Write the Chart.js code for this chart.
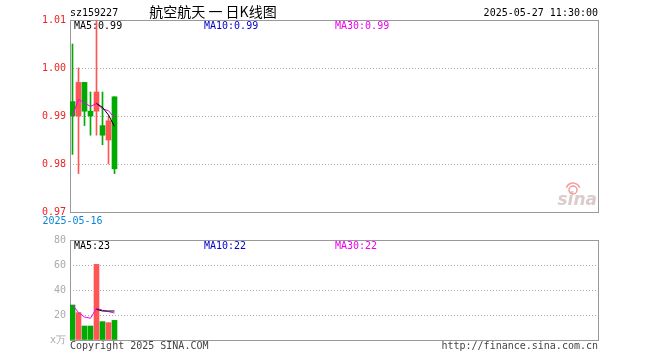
<!DOCTYPE html>
<html>
<head>
<meta charset="utf-8">
<script src="https://cdn.jsdelivr.net/npm/chart.js@4.4.1/dist/chart.umd.min.js"></script>
<style>
    body { margin: 0; background: #fff; width: 660px; height: 360px; overflow: hidden; position: relative; }
    canvas { position: absolute; left: 0; }
    #klineChart { top: 0; }
    #volumeChart { top: 230px; }
</style>
</head>
<body>
<canvas id="klineChart" width="660" height="230" style="width:660px;height:230px"></canvas>
<canvas id="volumeChart" width="660" height="130" style="width:660px;height:130px"></canvas>
<script>
// Daily K-line data
const dates = ['2025-05-16', '2025-05-19', '2025-05-20', '2025-05-21', '2025-05-22', '2025-05-23', '2025-05-26', '2025-05-27'];
const openPrices = [0.993, 0.990, 0.997, 0.991, 0.991, 0.988, 0.985, 0.994];
const closePrices = [0.990, 0.997, 0.991, 0.990, 0.995, 0.986, 0.989, 0.979];
const highPrices = [1.005, 1.000, 0.997, 0.995, 1.010, 0.995, 0.990, 0.994];
const lowPrices = [0.982, 0.978, 0.988, 0.986, 0.986, 0.984, 0.980, 0.978];
const priceMa5 = [null, null, null, null, 0.9926, 0.9918, 0.9902, 0.9878];
const priceMa30 = [0.990, 0.9935, 0.9927, 0.992, 0.9926, 0.9915, 0.9911, 0.9896];

// Volume (x万)
const volumes = [28, 21.9, 11.2, 11.2, 60.5, 14.7, 13.9, 15.7];
const volumeMa5 = [null, null, null, null, 24.5, 23.2, 23.2, 23.2];
const volumeMa30 = [28, 21.9, 18.4, 17.4, 25.4, 23.8, 22.7, 21.6];

const priceTicks = [0.97, 0.98, 0.99, 1.00, 1.01];
const volumeTicks = [0, 20, 40, 60, 80];
const slotCount = 88;

const UP = '#ff5555';
const DOWN = '#00aa00';
const MONO = 'DejaVu Sans Mono';

const candleColors = dates.map((d, i) => closePrices[i] >= openPrices[i] ? UP : DOWN);
const toPoints = arr => arr.map((v, i) => ({ x: i, y: v }));

function slotAxis(showDate) {
    return {
        type: 'linear',
        min: -0.4167,
        max: slotCount - 0.4167,
        offset: false,
        display: showDate,
        grid: { display: false, drawTicks: false },
        border: { display: false },
        afterBuildTicks: axis => { axis.ticks = [{ value: 0 }]; },
        afterFit: axis => { axis.height = showDate ? 18 : 0; },
        ticks: {
            color: '#0a84d8',
            font: { family: MONO, size: 10 },
            padding: 3,
            maxRotation: 0,
            autoSkip: false,
            callback: v => dates[v]
        }
    };
}

function valueAxis(ticks, color, format) {
    return {
        min: ticks[0],
        max: ticks[ticks.length - 1],
        afterBuildTicks: axis => { axis.ticks = ticks.map(v => ({ value: v })); },
        afterFit: axis => { axis.width = 70; },
        grid: { color: '#aaaaaa', drawTicks: false },
        border: { display: false, dash: [1, 2] },
        ticks: {
            color: color,
            font: { family: MONO, size: 10 },
            padding: 4,
            callback: format
        }
    };
}

function lineSet(data, color) {
    return {
        type: 'line',
        data: toPoints(data),
        borderColor: color,
        borderWidth: 1,
        pointRadius: 0,
        tension: 0,
        order: 0
    };
}

// Frame and labels drawn under the marks
function textPlugin(draw) {
    return {
        id: 'panelText',
        beforeDatasetsDraw(chart) {
            const { ctx, chartArea: a } = chart;
            ctx.save();
            ctx.strokeStyle = '#999999';
            ctx.lineWidth = 1;
            ctx.strokeRect(a.left + 0.5, a.top + 0.5, a.right - a.left, a.bottom - a.top);
            ctx.textBaseline = 'middle';
            draw(ctx, a);
            ctx.restore();
        }
    };
}

function label(ctx, text, x, y, color, font, align) {
    ctx.font = font || `10px "${MONO}"`;
    ctx.fillStyle = color;
    ctx.textAlign = align || 'left';
    ctx.fillText(text, x, y);
}

// K-line chart
new Chart(document.getElementById('klineChart'), {
    type: 'bar',
    data: {
        datasets: [
            lineSet(priceMa5, '#000000'),
            lineSet(priceMa30, '#ee00ee'),
            {
                data: dates.map((d, i) => ({ x: i, y: [openPrices[i], closePrices[i]] })),
                backgroundColor: candleColors,
                barThickness: 5,
                grouped: false,
                order: 1
            },
            {
                data: dates.map((d, i) => ({ x: i, y: [lowPrices[i], highPrices[i]] })),
                backgroundColor: candleColors,
                barThickness: 1,
                grouped: false,
                order: 2
            }
        ]
    },
    options: {
        responsive: false,
        animation: false,
        layout: { padding: { left: 0, right: 62, top: 20, bottom: 0 } },
        plugins: { legend: { display: false }, tooltip: { enabled: false } },
        scales: {
            x: slotAxis(true),
            y: valueAxis(priceTicks, '#ee2222', v => v.toFixed(2))
        }
    },
    plugins: [textPlugin((ctx, a) => {
        label(ctx, 'sz159227', 70, 13, '#000');
        label(ctx, '航空航天 一 日K线图', 213, 12, '#000', '14px "Noto Sans CJK SC"', 'center');
        label(ctx, '2025-05-27 11:30:00', 598, 13, '#000', null, 'right');
        label(ctx, 'MA5:0.99', 74, 26, '#000');
        label(ctx, 'MA10:0.99', 204, 26, '#0000cc');
        label(ctx, 'MA30:0.99', 335, 26, '#ee00ee');
        // sina watermark
        label(ctx, 'sina', 597, 201, 'rgba(190,160,160,0.55)', 'italic bold 17px "DejaVu Sans"', 'right');
        ctx.strokeStyle = 'rgba(235,90,90,0.6)';
        ctx.lineWidth = 1.5;
        ctx.beginPath();
        ctx.arc(573, 190, 4, 0, Math.PI * 2);
        ctx.stroke();
        ctx.beginPath();
        ctx.arc(573, 190, 7, Math.PI * 1.1, Math.PI * 1.9);
        ctx.stroke();
    })]
});

// Volume chart
new Chart(document.getElementById('volumeChart'), {
    type: 'bar',
    data: {
        datasets: [
            lineSet(volumeMa5, '#000000'),
            lineSet(volumeMa30, '#ee00ee'),
            {
                data: toPoints(volumes),
                backgroundColor: candleColors,
                barThickness: 5,
                grouped: false,
                order: 1
            }
        ]
    },
    options: {
        responsive: false,
        animation: false,
        layout: { padding: { left: 0, right: 62, top: 10, bottom: 20 } },
        plugins: { legend: { display: false }, tooltip: { enabled: false } },
        scales: {
            x: slotAxis(false),
            y: valueAxis(volumeTicks, '#aaaaaa', v => v === 0 ? 'x万' : v)
        }
    },
    plugins: [textPlugin((ctx, a) => {
        label(ctx, 'MA5:23', 74, 16, '#000');
        label(ctx, 'MA10:22', 204, 16, '#0000cc');
        label(ctx, 'MA30:22', 335, 16, '#ee00ee');
        label(ctx, 'Copyright 2025 SINA.COM', 70, 116, '#444');
        label(ctx, 'http://finance.sina.com.cn', 598, 116, '#444', null, 'right');
    })]
});
</script>
</body>
</html>
